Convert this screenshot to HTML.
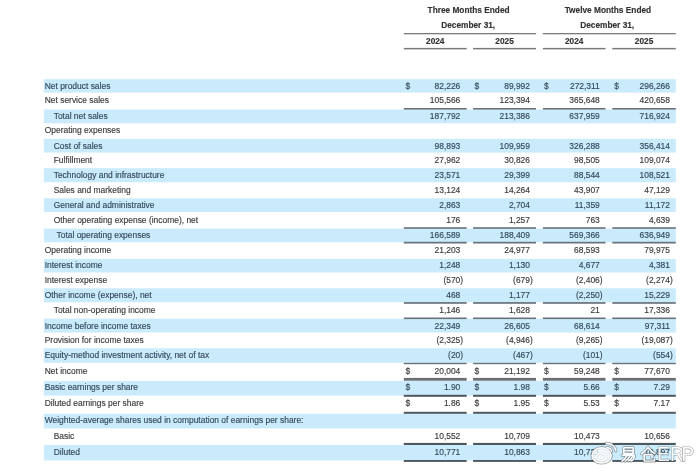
<!DOCTYPE html><html><head><meta charset="utf-8"><style>
html,body{margin:0;padding:0;background:#fff;}
body{width:700px;height:471px;position:relative;overflow:hidden;font-family:"Liberation Sans",sans-serif;color:#3b3b3b;}
.bg{position:absolute;left:0;top:0;}
.tx{position:absolute;left:0;top:0;width:700px;height:471px;will-change:transform;-webkit-text-stroke:0.15px currentColor;}
.a{position:absolute;white-space:nowrap;line-height:1;}
.t{font-size:8.45px;}
.h{font-size:8.3px;font-weight:bold;color:#333;}
.b{color:#34495a;}
</style></head><body>

<svg class="bg" width="700" height="471" viewBox="0 0 700 471">
<rect x="43.8" y="79.20" width="632.00" height="13.40" fill="#c9ebfc"/>
<rect x="43.8" y="109.50" width="632.00" height="13.80" fill="#c9ebfc"/>
<rect x="43.8" y="138.80" width="632.00" height="13.80" fill="#c9ebfc"/>
<rect x="43.8" y="168.20" width="632.00" height="14.00" fill="#c9ebfc"/>
<rect x="43.8" y="198.30" width="632.00" height="13.70" fill="#c9ebfc"/>
<rect x="43.8" y="228.60" width="632.00" height="13.60" fill="#c9ebfc"/>
<rect x="43.8" y="258.90" width="632.00" height="13.60" fill="#c9ebfc"/>
<rect x="43.8" y="288.30" width="632.00" height="13.90" fill="#c9ebfc"/>
<rect x="43.8" y="318.60" width="632.00" height="13.90" fill="#c9ebfc"/>
<rect x="43.8" y="348.30" width="632.00" height="14.50" fill="#c9ebfc"/>
<rect x="43.8" y="380.90" width="632.00" height="14.70" fill="#c9ebfc"/>
<rect x="43.8" y="413.80" width="632.00" height="14.60" fill="#c9ebfc"/>
<rect x="43.8" y="444.90" width="632.00" height="15.50" fill="#c9ebfc"/>
<rect x="403.8" y="33.0" width="132.20" height="1.3" fill="#7a7a7a"/>
<rect x="542.9" y="33.0" width="132.90" height="1.3" fill="#7a7a7a"/>
<rect x="403.8" y="47.9" width="62.90" height="1.5" fill="#7a7a7a"/>
<rect x="473.1" y="47.9" width="62.90" height="1.5" fill="#7a7a7a"/>
<rect x="542.9" y="47.9" width="62.60" height="1.5" fill="#7a7a7a"/>
<rect x="612.3" y="47.9" width="63.50" height="1.5" fill="#7a7a7a"/>
<rect x="403.8" y="108.00" width="62.90" height="1.60" fill="#67727a"/>
<rect x="473.1" y="108.00" width="62.90" height="1.60" fill="#67727a"/>
<rect x="542.9" y="108.00" width="62.60" height="1.60" fill="#67727a"/>
<rect x="612.3" y="108.00" width="63.50" height="1.60" fill="#67727a"/>
<rect x="403.8" y="227.20" width="62.90" height="1.60" fill="#67727a"/>
<rect x="473.1" y="227.20" width="62.90" height="1.60" fill="#67727a"/>
<rect x="542.9" y="227.20" width="62.60" height="1.60" fill="#67727a"/>
<rect x="612.3" y="227.20" width="63.50" height="1.60" fill="#67727a"/>
<rect x="403.8" y="241.80" width="62.90" height="1.70" fill="#67727a"/>
<rect x="473.1" y="241.80" width="62.90" height="1.70" fill="#67727a"/>
<rect x="542.9" y="241.80" width="62.60" height="1.70" fill="#67727a"/>
<rect x="612.3" y="241.80" width="63.50" height="1.70" fill="#67727a"/>
<rect x="403.8" y="302.10" width="62.90" height="1.70" fill="#67727a"/>
<rect x="473.1" y="302.10" width="62.90" height="1.70" fill="#67727a"/>
<rect x="542.9" y="302.10" width="62.60" height="1.70" fill="#67727a"/>
<rect x="612.3" y="302.10" width="63.50" height="1.70" fill="#67727a"/>
<rect x="403.8" y="317.50" width="62.90" height="1.60" fill="#67727a"/>
<rect x="473.1" y="317.50" width="62.90" height="1.60" fill="#67727a"/>
<rect x="542.9" y="317.50" width="62.60" height="1.60" fill="#67727a"/>
<rect x="612.3" y="317.50" width="63.50" height="1.60" fill="#67727a"/>
<rect x="403.8" y="362.80" width="62.90" height="1.40" fill="#67727a"/>
<rect x="473.1" y="362.80" width="62.90" height="1.40" fill="#67727a"/>
<rect x="542.9" y="362.80" width="62.60" height="1.40" fill="#67727a"/>
<rect x="612.3" y="362.80" width="63.50" height="1.40" fill="#67727a"/>
<rect x="403.8" y="377.90" width="62.90" height="2.80" fill="#6a6f73"/>
<rect x="473.1" y="377.90" width="62.90" height="2.80" fill="#6a6f73"/>
<rect x="542.9" y="377.90" width="62.60" height="2.80" fill="#6a6f73"/>
<rect x="612.3" y="377.90" width="63.50" height="2.80" fill="#6a6f73"/>
<rect x="403.8" y="394.80" width="62.90" height="2.00" fill="#4d575e"/>
<rect x="473.1" y="394.80" width="62.90" height="2.00" fill="#4d575e"/>
<rect x="542.9" y="394.80" width="62.60" height="2.00" fill="#4d575e"/>
<rect x="612.3" y="394.80" width="63.50" height="2.00" fill="#4d575e"/>
<rect x="403.8" y="411.80" width="62.90" height="2.00" fill="#4d575e"/>
<rect x="473.1" y="411.80" width="62.90" height="2.00" fill="#4d575e"/>
<rect x="542.9" y="411.80" width="62.60" height="2.00" fill="#4d575e"/>
<rect x="612.3" y="411.80" width="63.50" height="2.00" fill="#4d575e"/>
<rect x="403.8" y="442.90" width="62.90" height="2.10" fill="#4d575e"/>
<rect x="473.1" y="442.90" width="62.90" height="2.10" fill="#4d575e"/>
<rect x="542.9" y="442.90" width="62.60" height="2.10" fill="#4d575e"/>
<rect x="612.3" y="442.90" width="63.50" height="2.10" fill="#4d575e"/>
<rect x="403.8" y="460.00" width="62.90" height="1.90" fill="#4d575e"/>
<rect x="473.1" y="460.00" width="62.90" height="1.90" fill="#4d575e"/>
<rect x="542.9" y="460.00" width="62.60" height="1.90" fill="#4d575e"/>
<rect x="612.3" y="460.00" width="63.50" height="1.90" fill="#4d575e"/>
</svg>
<div class="tx">
<div class="a h" style="left:368.60px;width:200px;text-align:center;top:6.07px">Three Months Ended</div>
<div class="a h" style="left:507.90px;width:200px;text-align:center;top:6.07px">Twelve Months Ended</div>
<div class="a h" style="left:368.20px;width:200px;text-align:center;top:21.17px">December 31,</div>
<div class="a h" style="left:507.20px;width:200px;text-align:center;top:21.17px">December 31,</div>
<div class="a h" style="left:335.25px;width:200px;text-align:center;top:36.97px">2024</div>
<div class="a h" style="left:404.55px;width:200px;text-align:center;top:36.97px">2025</div>
<div class="a h" style="left:474.20px;width:200px;text-align:center;top:36.97px">2024</div>
<div class="a h" style="left:544.05px;width:200px;text-align:center;top:36.97px">2025</div>
<div class="a t b" style="left:44.70px;top:81.95px">Net product sales</div>
<div class="a t b" style="right:239.70px;top:81.95px">82,226</div>
<div class="a t b" style="left:405.50px;top:81.95px">$</div>
<div class="a t b" style="right:170.00px;top:81.95px">89,992</div>
<div class="a t b" style="left:474.50px;top:81.95px">$</div>
<div class="a t b" style="right:100.20px;top:81.95px">272,311</div>
<div class="a t b" style="left:544.00px;top:81.95px">$</div>
<div class="a t b" style="right:30.00px;top:81.95px">296,266</div>
<div class="a t b" style="left:614.20px;top:81.95px">$</div>
<div class="a t" style="left:44.70px;top:96.25px">Net service sales</div>
<div class="a t" style="right:239.70px;top:96.25px">105,566</div>
<div class="a t" style="right:170.00px;top:96.25px">123,394</div>
<div class="a t" style="right:100.20px;top:96.25px">365,648</div>
<div class="a t" style="right:30.00px;top:96.25px">420,658</div>
<div class="a t b" style="left:53.70px;top:111.85px">Total net sales</div>
<div class="a t b" style="right:239.70px;top:111.85px">187,792</div>
<div class="a t b" style="right:170.00px;top:111.85px">213,386</div>
<div class="a t b" style="right:100.20px;top:111.85px">637,959</div>
<div class="a t b" style="right:30.00px;top:111.85px">716,924</div>
<div class="a t" style="left:44.70px;top:126.35px">Operating expenses</div>
<div class="a t b" style="left:53.70px;top:141.85px">Cost of sales</div>
<div class="a t b" style="right:239.70px;top:141.85px">98,893</div>
<div class="a t b" style="right:170.00px;top:141.85px">109,959</div>
<div class="a t b" style="right:100.20px;top:141.85px">326,288</div>
<div class="a t b" style="right:30.00px;top:141.85px">356,414</div>
<div class="a t" style="left:53.70px;top:156.25px">Fulfillment</div>
<div class="a t" style="right:239.70px;top:156.25px">27,962</div>
<div class="a t" style="right:170.00px;top:156.25px">30,826</div>
<div class="a t" style="right:100.20px;top:156.25px">98,505</div>
<div class="a t" style="right:30.00px;top:156.25px">109,074</div>
<div class="a t b" style="left:53.70px;top:171.15px">Technology and infrastructure</div>
<div class="a t b" style="right:239.70px;top:171.15px">23,571</div>
<div class="a t b" style="right:170.00px;top:171.15px">29,399</div>
<div class="a t b" style="right:100.20px;top:171.15px">88,544</div>
<div class="a t b" style="right:30.00px;top:171.15px">108,521</div>
<div class="a t" style="left:53.70px;top:185.85px">Sales and marketing</div>
<div class="a t" style="right:239.70px;top:185.85px">13,124</div>
<div class="a t" style="right:170.00px;top:185.85px">14,264</div>
<div class="a t" style="right:100.20px;top:185.85px">43,907</div>
<div class="a t" style="right:30.00px;top:185.85px">47,129</div>
<div class="a t b" style="left:53.70px;top:200.65px">General and administrative</div>
<div class="a t b" style="right:239.70px;top:200.65px">2,863</div>
<div class="a t b" style="right:170.00px;top:200.65px">2,704</div>
<div class="a t b" style="right:100.20px;top:200.65px">11,359</div>
<div class="a t b" style="right:30.00px;top:200.65px">11,172</div>
<div class="a t" style="left:53.70px;top:215.85px">Other operating expense (income), net</div>
<div class="a t" style="right:239.70px;top:215.85px">176</div>
<div class="a t" style="right:170.00px;top:215.85px">1,257</div>
<div class="a t" style="right:100.20px;top:215.85px">763</div>
<div class="a t" style="right:30.00px;top:215.85px">4,639</div>
<div class="a t b" style="left:56.50px;top:231.05px">Total operating expenses</div>
<div class="a t b" style="right:239.70px;top:231.05px">166,589</div>
<div class="a t b" style="right:170.00px;top:231.05px">188,409</div>
<div class="a t b" style="right:100.20px;top:231.05px">569,366</div>
<div class="a t b" style="right:30.00px;top:231.05px">636,949</div>
<div class="a t" style="left:44.70px;top:246.25px">Operating income</div>
<div class="a t" style="right:239.70px;top:246.25px">21,203</div>
<div class="a t" style="right:170.00px;top:246.25px">24,977</div>
<div class="a t" style="right:100.20px;top:246.25px">68,593</div>
<div class="a t" style="right:30.00px;top:246.25px">79,975</div>
<div class="a t b" style="left:44.70px;top:261.05px">Interest income</div>
<div class="a t b" style="right:239.70px;top:261.05px">1,248</div>
<div class="a t b" style="right:170.00px;top:261.05px">1,130</div>
<div class="a t b" style="right:100.20px;top:261.05px">4,677</div>
<div class="a t b" style="right:30.00px;top:261.05px">4,381</div>
<div class="a t" style="left:44.70px;top:276.25px">Interest expense</div>
<div class="a t" style="right:236.90px;top:276.25px">(570)</div>
<div class="a t" style="right:167.20px;top:276.25px">(679)</div>
<div class="a t" style="right:97.40px;top:276.25px">(2,406)</div>
<div class="a t" style="right:27.20px;top:276.25px">(2,274)</div>
<div class="a t b" style="left:44.70px;top:290.65px">Other income (expense), net</div>
<div class="a t b" style="right:239.70px;top:290.65px">468</div>
<div class="a t b" style="right:170.00px;top:290.65px">1,177</div>
<div class="a t b" style="right:97.40px;top:290.65px">(2,250)</div>
<div class="a t b" style="right:30.00px;top:290.65px">15,229</div>
<div class="a t" style="left:53.70px;top:305.85px">Total non-operating income</div>
<div class="a t" style="right:239.70px;top:305.85px">1,146</div>
<div class="a t" style="right:170.00px;top:305.85px">1,628</div>
<div class="a t" style="right:100.20px;top:305.85px">21</div>
<div class="a t" style="right:30.00px;top:305.85px">17,336</div>
<div class="a t b" style="left:44.70px;top:321.55px">Income before income taxes</div>
<div class="a t b" style="right:239.70px;top:321.55px">22,349</div>
<div class="a t b" style="right:170.00px;top:321.55px">26,605</div>
<div class="a t b" style="right:100.20px;top:321.55px">68,614</div>
<div class="a t b" style="right:30.00px;top:321.55px">97,311</div>
<div class="a t" style="left:44.70px;top:336.25px">Provision for income taxes</div>
<div class="a t" style="right:236.90px;top:336.25px">(2,325)</div>
<div class="a t" style="right:167.20px;top:336.25px">(4,946)</div>
<div class="a t" style="right:97.40px;top:336.25px">(9,265)</div>
<div class="a t" style="right:27.20px;top:336.25px">(19,087)</div>
<div class="a t b" style="left:44.70px;top:351.25px">Equity-method investment activity, net of tax</div>
<div class="a t b" style="right:236.90px;top:351.25px">(20)</div>
<div class="a t b" style="right:167.20px;top:351.25px">(467)</div>
<div class="a t b" style="right:97.40px;top:351.25px">(101)</div>
<div class="a t b" style="right:27.20px;top:351.25px">(554)</div>
<div class="a t" style="left:44.70px;top:366.55px">Net income</div>
<div class="a t" style="right:239.70px;top:366.55px">20,004</div>
<div class="a t" style="left:405.50px;top:366.55px">$</div>
<div class="a t" style="right:170.00px;top:366.55px">21,192</div>
<div class="a t" style="left:474.50px;top:366.55px">$</div>
<div class="a t" style="right:100.20px;top:366.55px">59,248</div>
<div class="a t" style="left:544.00px;top:366.55px">$</div>
<div class="a t" style="right:30.00px;top:366.55px">77,670</div>
<div class="a t" style="left:614.20px;top:366.55px">$</div>
<div class="a t b" style="left:44.70px;top:382.95px">Basic earnings per share</div>
<div class="a t b" style="right:239.70px;top:382.95px">1.90</div>
<div class="a t b" style="left:405.50px;top:382.95px">$</div>
<div class="a t b" style="right:170.00px;top:382.95px">1.98</div>
<div class="a t b" style="left:474.50px;top:382.95px">$</div>
<div class="a t b" style="right:100.20px;top:382.95px">5.66</div>
<div class="a t b" style="left:544.00px;top:382.95px">$</div>
<div class="a t b" style="right:30.00px;top:382.95px">7.29</div>
<div class="a t b" style="left:614.20px;top:382.95px">$</div>
<div class="a t" style="left:44.70px;top:399.45px">Diluted earnings per share</div>
<div class="a t" style="right:239.70px;top:399.45px">1.86</div>
<div class="a t" style="left:405.50px;top:399.45px">$</div>
<div class="a t" style="right:170.00px;top:399.45px">1.95</div>
<div class="a t" style="left:474.50px;top:399.45px">$</div>
<div class="a t" style="right:100.20px;top:399.45px">5.53</div>
<div class="a t" style="left:544.00px;top:399.45px">$</div>
<div class="a t" style="right:30.00px;top:399.45px">7.17</div>
<div class="a t" style="left:614.20px;top:399.45px">$</div>
<div class="a t b" style="left:44.70px;top:416.35px">Weighted-average shares used in computation of earnings per share:</div>
<div class="a t" style="left:53.70px;top:431.65px">Basic</div>
<div class="a t" style="right:239.70px;top:431.65px">10,552</div>
<div class="a t" style="right:170.00px;top:431.65px">10,709</div>
<div class="a t" style="right:100.20px;top:431.65px">10,473</div>
<div class="a t" style="right:30.00px;top:431.65px">10,656</div>
<div class="a t b" style="left:53.70px;top:447.85px">Diluted</div>
<div class="a t b" style="right:239.70px;top:447.85px">10,771</div>
<div class="a t b" style="right:170.00px;top:447.85px">10,863</div>
<div class="a t b" style="right:100.20px;top:447.85px">10,721</div>
<div class="a t b" style="right:30.00px;top:447.85px">10,897</div>
</div>
<svg class="bg" width="700" height="471" viewBox="0 0 700 471" style="z-index:5">
<g fill="none" stroke-linecap="round" stroke-linejoin="round">
 <g stroke="rgba(60,60,60,0.5)" stroke-width="3">
  <ellipse cx="601.6" cy="455.4" rx="9.6" ry="7.6"/>
  <ellipse cx="601.2" cy="457" rx="5.2" ry="3.6"/>
  <path d="M606.2,443.2 Q615,443.8 615.8,451"/>
  <path d="M606.8,447.6 Q611,448 611.5,451.2"/>
  <path d="M623.8,447.8 H633.2 V453.6 H623.8 Z M623.8,450.7 H633.2 M622.2,455.3 H634.3 Q634.3,460.5 631,461 M626.8,455.6 Q625,459.5 621.8,461.2 M629.8,456 Q628,460 625.2,461.2 M632.6,456.3 Q631,459.6 628.5,461"/>
  <path d="M648,447.2 Q645.5,451.5 641.6,453.8 M648,447.2 Q651,451.5 654.8,453.6 M644.2,454.6 H652 V457.6 M644.2,454.6 V461 H654.5 V459.4"/>
 </g>
 <g stroke="rgba(255,255,255,0.97)" stroke-width="1.6">
  <ellipse cx="601.6" cy="455.4" rx="9.6" ry="7.6" fill="rgba(255,255,255,0.72)"/>
  <ellipse cx="601.2" cy="457" rx="5.2" ry="3.6"/>
  <path d="M606.2,443.2 Q615,443.8 615.8,451"/>
  <path d="M606.8,447.6 Q611,448 611.5,451.2"/>
  <path d="M623.8,447.8 H633.2 V453.6 H623.8 Z M623.8,450.7 H633.2 M622.2,455.3 H634.3 Q634.3,460.5 631,461 M626.8,455.6 Q625,459.5 621.8,461.2 M629.8,456 Q628,460 625.2,461.2 M632.6,456.3 Q631,459.6 628.5,461"/>
  <path d="M648,447.2 Q645.5,451.5 641.6,453.8 M648,447.2 Q651,451.5 654.8,453.6 M644.2,454.6 H652 V457.6 M644.2,454.6 V461 H654.5 V459.4"/>
 </g>
</g>
<g font-family="Liberation Sans" font-size="19.5" fill="rgba(255,255,255,0.92)" stroke="rgba(60,60,60,0.45)" stroke-width="1.2" paint-order="stroke">
 <text x="656.9" y="461">E</text><text x="670" y="461">R</text><text x="681.2" y="461">P</text>
</g>
</svg>
</body></html>
